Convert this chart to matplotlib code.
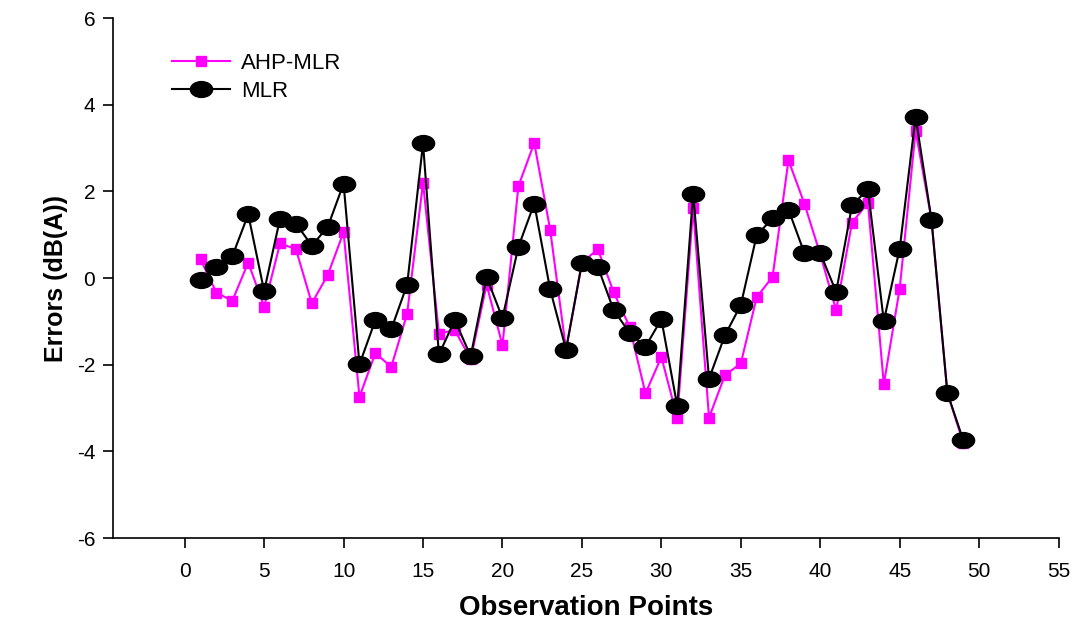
import numpy as np
import matplotlib
matplotlib.use("Agg")
import matplotlib.pyplot as plt
from matplotlib.path import Path
from matplotlib.transforms import Affine2D

plt.rcParams['font.family'] = ['Liberation Sans', 'DejaVu Sans']
plt.rcParams['axes.unicode_minus'] = False

# observation points and errors
points = list(range(1, 50))
ahp_mlr = [0.43, -0.34, -0.52, 0.36, -0.66, 0.80, 0.67, -0.58, 0.07, 1.06,
           -2.74, -1.73, -2.05, -0.82, 2.20, -1.28, -1.20, -1.87, -0.15, -1.55,
           2.12, 3.12, 1.12, -1.65, 0.35, 0.67, -0.33, -1.12, -2.66, -1.82,
           -3.22, 1.61, -3.22, -2.24, -1.97, -0.44, 0.03, 2.72, 1.72, 0.55,
           -0.74, 1.28, 1.74, -2.45, -0.24, 3.40, 1.35, -2.65, -3.80]
mlr = [-0.05, 0.26, 0.51, 1.47, -0.30, 1.37, 1.26, 0.75, 1.18, 2.18,
       -1.99, -0.97, -1.18, -0.15, 3.11, -1.76, -0.97, -1.80, 0.02, -0.92,
       0.72, 1.72, -0.26, -1.65, 0.35, 0.26, -0.74, -1.26, -1.58, -0.95,
       -2.95, 1.95, -2.32, -1.32, -0.62, 0.99, 1.38, 1.58, 0.58, 0.58,
       -0.32, 1.68, 2.05, -0.99, 0.68, 3.72, 1.35, -2.65, -3.74]

xticks = list(range(0, 60, 5))
yticks = list(range(-6, 8, 2))

# slightly wide ellipse, like the stretched dots of the original
oval = Path.unit_circle().transformed(Affine2D().scale(1.4, 1.0))

fig = plt.figure(figsize=(10.78, 6.25), dpi=100)
ax = fig.add_axes([0.105, 0.139, 0.877, 0.832])

ax.plot(points, ahp_mlr, color='#ff00ff', lw=1.5, marker='s', ms=7,
        mec='#ff00ff', mfc='#ff00ff', label='AHP-MLR')
ax.plot(points, mlr, color='black', lw=1.5, marker=oval, ms=16,
        mec='black', mfc='black', label='MLR')

ax.set_xlim(-4.5, 55)
ax.set_ylim(-6, 6)
ax.set_xticks(xticks)
ax.set_yticks(yticks)
ax.tick_params(direction='out', length=7, width=1.2, labelsize=15, pad=10)
ax.tick_params(axis='y', pad=6)

for s in ['top', 'right']:
    ax.spines[s].set_visible(False)
for s in ['left', 'bottom']:
    ax.spines[s].set_linewidth(1.2)

ax.set_xlabel('Observation Points', fontsize=20, fontweight='bold', labelpad=10)
ax.set_ylabel('Errors (dB(A))', fontsize=18, fontweight='bold', labelpad=6)

ax.legend(loc='upper left', bbox_to_anchor=(0.053, 0.95), frameon=False,
          fontsize=16, handlelength=2.6, labelspacing=0.3, handletextpad=0.5,
          borderaxespad=0)

fig.savefig('out.png', dpi=100)
